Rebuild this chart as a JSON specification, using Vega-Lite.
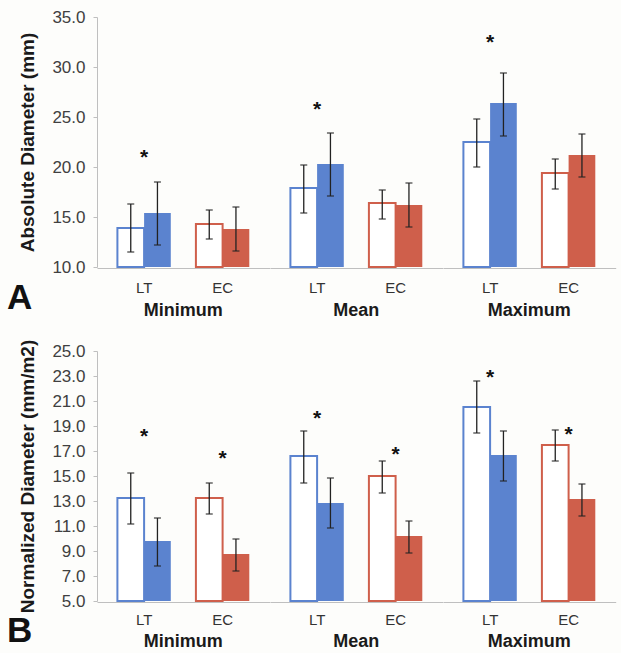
{
  "$schema": "https://vega.github.io/schema/vega-lite/v6.json",
  "background": "#fdfdfb",
  "padding": {"left": 6, "top": 8, "right": 5, "bottom": 2},
  "config": {
    "view": {"stroke": null},
    "font": "Liberation Sans",
    "axis": {"domainColor": "#bfbfbf", "tickColor": "#bfbfbf", "grid": false, "labelFont": "Liberation Sans", "titleFont": "Liberation Sans", "labelOverlap": false},
    "axisY": {"labelOverlap": false, "labelFontSize": 17},
    "axisQuantitative": {"labelOverlap": false},
    "axisX": {"labelFontSize": 15, "labelColor": "#333333"},
    "axisBand": {"labelFontSize": 15}
  },
  "datasets": {
    "a": [
      {"group": "Minimum", "sub": "LT", "kind": "open", "value": 13.9, "lo": 11.5, "hi": 16.3},
      {"group": "Minimum", "sub": "LT", "kind": "filled", "value": 15.4, "lo": 12.2, "hi": 18.5, "star": 21.6},
      {"group": "Minimum", "sub": "EC", "kind": "open", "value": 14.3, "lo": 12.8, "hi": 15.7},
      {"group": "Minimum", "sub": "EC", "kind": "filled", "value": 13.8, "lo": 11.6, "hi": 16.0},
      {"group": "Mean", "sub": "LT", "kind": "open", "value": 17.9, "lo": 15.4, "hi": 20.2},
      {"group": "Mean", "sub": "LT", "kind": "filled", "value": 20.3, "lo": 17.1, "hi": 23.4, "star": 26.4},
      {"group": "Mean", "sub": "EC", "kind": "open", "value": 16.4, "lo": 14.8, "hi": 17.7},
      {"group": "Mean", "sub": "EC", "kind": "filled", "value": 16.2, "lo": 14.0, "hi": 18.4},
      {"group": "Maximum", "sub": "LT", "kind": "open", "value": 22.5, "lo": 20.0, "hi": 24.8},
      {"group": "Maximum", "sub": "LT", "kind": "filled", "value": 26.4, "lo": 23.1, "hi": 29.4, "star": 33.1},
      {"group": "Maximum", "sub": "EC", "kind": "open", "value": 19.4, "lo": 17.8, "hi": 20.8},
      {"group": "Maximum", "sub": "EC", "kind": "filled", "value": 21.2, "lo": 19.0, "hi": 23.3}
    ],
    "b": [
      {"group": "Minimum", "sub": "LT", "kind": "open", "value": 13.24, "lo": 11.16, "hi": 15.24},
      {"group": "Minimum", "sub": "LT", "kind": "filled", "value": 9.8, "lo": 7.8, "hi": 11.64, "star": 18.7},
      {"group": "Minimum", "sub": "EC", "kind": "open", "value": 13.24, "lo": 11.96, "hi": 14.44},
      {"group": "Minimum", "sub": "EC", "kind": "filled", "value": 8.76, "lo": 7.4, "hi": 9.96, "star": 16.9},
      {"group": "Mean", "sub": "LT", "kind": "open", "value": 16.6, "lo": 14.44, "hi": 18.6},
      {"group": "Mean", "sub": "LT", "kind": "filled", "value": 12.84, "lo": 10.84, "hi": 14.84, "star": 20.1},
      {"group": "Mean", "sub": "EC", "kind": "open", "value": 15.0, "lo": 13.64, "hi": 16.2},
      {"group": "Mean", "sub": "EC", "kind": "filled", "value": 10.2, "lo": 8.84, "hi": 11.4, "star": 17.24},
      {"group": "Maximum", "sub": "LT", "kind": "open", "value": 20.52, "lo": 18.44, "hi": 22.6},
      {"group": "Maximum", "sub": "LT", "kind": "filled", "value": 16.68, "lo": 14.6, "hi": 18.6, "star": 23.4},
      {"group": "Maximum", "sub": "EC", "kind": "open", "value": 17.48, "lo": 16.2, "hi": 18.68},
      {"group": "Maximum", "sub": "EC", "kind": "filled", "value": 13.16, "lo": 11.8, "hi": 14.36, "star": 18.84}
    ]
  },
  "spacing": 19,
  "vconcat": [
    {
      "data": {"name": "a"},
      "title": {"text": "A", "orient": "bottom", "anchor": "start", "fontSize": 35, "fontWeight": "bold", "color": "#111111", "dx": -12, "dy": -43},
      "facet": {"column": {"field": "group", "type": "nominal", "title": null, "sort": ["Minimum", "Mean", "Maximum"],
        "header": {"labelOrient": "bottom", "labelFontSize": 18, "labelFontWeight": "bold", "labelColor": "#1a1a1a", "labelPadding": 7, "labelFont": "Liberation Sans"}}},
      "spacing": 0,
      "spec": {
        "width": 172.7,
        "height": 250,
        "encoding": {
          "x": {"field": "sub", "type": "nominal", "sort": ["LT", "EC"], "scale": {"paddingInner": 0.32, "paddingOuter": 0.26},
            "axis": {"title": null, "labelAngle": 0, "ticks": false, "labelPadding": 12, "labelFontSize": 15, "labelColor": "#333333"}},
          "y": {"type": "quantitative", "scale": {"domain": [10, 35], "nice": false, "zero": false},
            "axis": {"title": "Absolute Diameter (mm)", "values": [10, 15, 20, 25, 30, 35], "format": ".1f", "tickSize": 4, "labelPadding": 8, "labelOverlap": false,
              "labelFontSize": 17, "labelColor": "#404040", "titleFontSize": 19, "titleFontWeight": "bold", "titleColor": "#1a1a1a", "titlePadding": 14}}
        },
        "layer": [
          {
            "transform": [{"filter": "datum.kind == 'open'"}],
            "mark": {"type": "bar", "fill": "white", "strokeWidth": 2},
            "encoding": {
              "xOffset": {"field": "kind", "type": "nominal", "sort": ["open", "filled"], "scale": {"domain": ["open", "filled"], "paddingInner": 0, "paddingOuter": 0}},
              "y": {"field": "value", "type": "quantitative"},
              "y2": {"datum": 10},
              "stroke": {"field": "sub", "type": "nominal", "scale": {"domain": ["LT", "EC"], "range": ["#5b83cf", "#cf5f4b"]}, "legend": null}
            }
          },
          {
            "transform": [{"filter": "datum.kind == 'filled'"}],
            "mark": {"type": "bar"},
            "encoding": {
              "xOffset": {"field": "kind", "type": "nominal", "sort": ["open", "filled"]},
              "y": {"field": "value", "type": "quantitative"},
              "y2": {"datum": 10},
              "fill": {"field": "sub", "type": "nominal", "scale": {"domain": ["LT", "EC"], "range": ["#5b83cf", "#cf5f4b"]}, "legend": null}
            }
          },
          {
            "mark": {"type": "rule", "color": "#222222", "strokeWidth": 1.3},
            "encoding": {
              "xOffset": {"field": "kind", "type": "nominal", "sort": ["open", "filled"]},
              "y": {"field": "lo", "type": "quantitative"},
              "y2": {"field": "hi"}
            }
          },
          {
            "mark": {"type": "tick", "color": "#222222", "size": 7, "thickness": 1.5},
            "encoding": {
              "xOffset": {"field": "kind", "type": "nominal", "sort": ["open", "filled"]},
              "y": {"field": "lo", "type": "quantitative"}
            }
          },
          {
            "mark": {"type": "tick", "color": "#222222", "size": 7, "thickness": 1.5},
            "encoding": {
              "xOffset": {"field": "kind", "type": "nominal", "sort": ["open", "filled"]},
              "y": {"field": "hi", "type": "quantitative"}
            }
          },
          {
            "transform": [{"filter": "isValid(datum.star)"}],
            "mark": {"type": "text", "text": "*", "fontSize": 21, "fontWeight": "bold", "color": "#111111", "baseline": "alphabetic", "dy": 13},
            "encoding": {
              "y": {"field": "star", "type": "quantitative"}
            }
          }
        ]
      }
    },
    {
      "data": {"name": "b"},
      "title": {"text": "B", "orient": "bottom", "anchor": "start", "fontSize": 35, "fontWeight": "bold", "color": "#111111", "dx": -12, "dy": -41},
      "facet": {"column": {"field": "group", "type": "nominal", "title": null, "sort": ["Minimum", "Mean", "Maximum"],
        "header": {"labelOrient": "bottom", "labelFontSize": 18, "labelFontWeight": "bold", "labelColor": "#1a1a1a", "labelPadding": 6, "labelFont": "Liberation Sans"}}},
      "spacing": 0,
      "spec": {
        "width": 172.7,
        "height": 250,
        "encoding": {
          "x": {"field": "sub", "type": "nominal", "sort": ["LT", "EC"], "scale": {"paddingInner": 0.32, "paddingOuter": 0.26},
            "axis": {"title": null, "labelAngle": 0, "ticks": false, "labelPadding": 10, "labelFontSize": 15, "labelColor": "#333333"}},
          "y": {"type": "quantitative", "scale": {"domain": [5, 25], "nice": false, "zero": false},
            "axis": {"title": "Normalized Diameter (mm/m2)", "values": [5, 7, 9, 11, 13, 15, 17, 19, 21, 23, 25], "format": ".1f", "tickSize": 4, "labelPadding": 8, "labelOverlap": false,
              "labelFontSize": 17, "labelColor": "#404040", "titleFontSize": 19, "titleFontWeight": "bold", "titleColor": "#1a1a1a", "titlePadding": 14}}
        },
        "layer": [
          {
            "transform": [{"filter": "datum.kind == 'open'"}],
            "mark": {"type": "bar", "fill": "white", "strokeWidth": 2},
            "encoding": {
              "xOffset": {"field": "kind", "type": "nominal", "sort": ["open", "filled"], "scale": {"domain": ["open", "filled"], "paddingInner": 0, "paddingOuter": 0}},
              "y": {"field": "value", "type": "quantitative"},
              "y2": {"datum": 5},
              "stroke": {"field": "sub", "type": "nominal", "scale": {"domain": ["LT", "EC"], "range": ["#5b83cf", "#cf5f4b"]}, "legend": null}
            }
          },
          {
            "transform": [{"filter": "datum.kind == 'filled'"}],
            "mark": {"type": "bar"},
            "encoding": {
              "xOffset": {"field": "kind", "type": "nominal", "sort": ["open", "filled"]},
              "y": {"field": "value", "type": "quantitative"},
              "y2": {"datum": 5},
              "fill": {"field": "sub", "type": "nominal", "scale": {"domain": ["LT", "EC"], "range": ["#5b83cf", "#cf5f4b"]}, "legend": null}
            }
          },
          {
            "mark": {"type": "rule", "color": "#222222", "strokeWidth": 1.3},
            "encoding": {
              "xOffset": {"field": "kind", "type": "nominal", "sort": ["open", "filled"]},
              "y": {"field": "lo", "type": "quantitative"},
              "y2": {"field": "hi"}
            }
          },
          {
            "mark": {"type": "tick", "color": "#222222", "size": 7, "thickness": 1.5},
            "encoding": {
              "xOffset": {"field": "kind", "type": "nominal", "sort": ["open", "filled"]},
              "y": {"field": "lo", "type": "quantitative"}
            }
          },
          {
            "mark": {"type": "tick", "color": "#222222", "size": 7, "thickness": 1.5},
            "encoding": {
              "xOffset": {"field": "kind", "type": "nominal", "sort": ["open", "filled"]},
              "y": {"field": "hi", "type": "quantitative"}
            }
          },
          {
            "transform": [{"filter": "isValid(datum.star)"}],
            "mark": {"type": "text", "text": "*", "fontSize": 21, "fontWeight": "bold", "color": "#111111", "baseline": "alphabetic", "dy": 13},
            "encoding": {
              "y": {"field": "star", "type": "quantitative"}
            }
          }
        ]
      }
    }
  ]
}
